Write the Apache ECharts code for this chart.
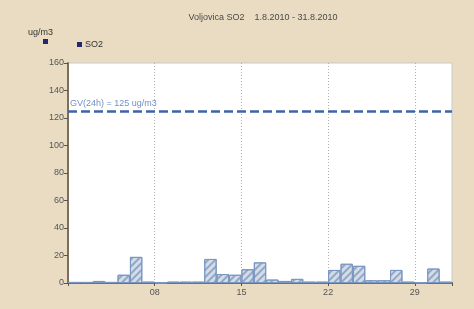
<!DOCTYPE html>
<html><head><meta charset="utf-8">
<script src="https://cdn.jsdelivr.net/npm/echarts@6/dist/echarts.min.js"></script>
<style>html,body{margin:0;padding:0;background:#e9dcc3;}#c{width:474px;height:309px;}</style>
</head><body><div id="c"></div>
<script>
var days = [1,2,3,4,5,6,7,8,9,10,11,12,13,14,15,16,17,18,19,20,21,22,23,24,25,26,27,28,29,30,31];
var so2 = [0.8,0.8,1.5,0.8,6,19,1,0.3,1,1,1,17.5,6.5,6,10,15,2.5,1.5,3,1,1,9.5,14,12.5,2,2,9.5,1,0.4,10.5,1];
var limitValue = 125;
var limitLabel = 'GV(24h) = 125 ug/m3';
var yTicks = [0,20,40,60,80,100,120,140,160];
var xTickDays = ['08','15','22','29'];
var title = 'Voljovica SO2    1.8.2010 - 31.8.2010';
var unit = 'ug/m3';

var font = 'Liberation Sans, Arial, sans-serif';
var chart = echarts.init(document.getElementById('c'), null, {renderer:'canvas'});
var barData = days.map(function(d,i){ return [d - 0.5, so2[i]]; });
chart.setOption({
  animation:false,
  backgroundColor:'#e9dcc3',
  title:{text:title,left:258,textAlign:'center',top:8,textStyle:{fontSize:9,fontWeight:'normal',color:'#4a4a4a',fontFamily:font}},
  legend:{data:[{name:'SO2',itemStyle:{color:'#1f2b6b',borderWidth:0,decal:'none'}}],left:72,top:35,itemWidth:5,itemHeight:5,icon:'rect',itemGap:4,
    textStyle:{fontSize:9,color:'#333',fontFamily:font,padding:[0,0,0,-2]}},
  graphic:[
    {type:'text',left:28,top:28,style:{text:unit,fontSize:9,fill:'#333',fontFamily:font}},
    {type:'rect',left:43,top:39,shape:{width:5,height:5},style:{fill:'#1f2b6b'}}
  ],
  grid:{left:68,right:22,top:63,bottom:26,show:true,backgroundColor:'#ffffff',borderColor:'#c9c9c9',borderWidth:1},
  xAxis:{type:'value',min:0,max:31,interval:7,
    axisLine:{show:true,onZero:false,lineStyle:{color:'#7c705c',width:2}},
    axisTick:{show:true,length:3,lineStyle:{color:'#555'}},
    axisLabel:{fontSize:9,color:'#555',fontFamily:font,margin:5,
      formatter:function(v){ var k=Math.round(v)/7; return (k>=1&&k<=xTickDays.length)?xTickDays[k-1]:''; }},
    splitLine:{show:true,showMinLine:false,showMaxLine:false,lineStyle:{color:'#b0b0b0',type:[1,2],width:1}}
  },
  yAxis:{type:'value',min:yTicks[0],max:yTicks[yTicks.length-1],interval:20,
    axisLine:{show:true,lineStyle:{color:'#7c705c',width:2}},
    axisTick:{show:true,length:4,lineStyle:{color:'#555'}},
    axisLabel:{fontSize:9,color:'#555',fontFamily:font,margin:4},
    splitLine:{show:false}
  },
  series:[{
    name:'SO2',type:'bar',data:barData,barWidth:'100%',
    itemStyle:{color:'#d3dce9',borderColor:'#7a97c2',borderWidth:1,
      decal:{symbol:'rect',symbolSize:1,color:'rgba(120,145,182,0.7)',dashArrayX:[1,0],dashArrayY:[1.5,3],rotation:-Math.PI/4}},
    markLine:{silent:true,symbol:'none',
      lineStyle:{color:'#3f63a8',width:2.5,type:[9,4]},
      label:{show:true,position:'insideStartTop',formatter:limitLabel,color:'#7190c4',fontSize:9,fontFamily:font,distance:[2,3]},
      data:[{yAxis:limitValue}]
    }
  }],
  color:['#1f2b6b']
});
</script></body></html>
